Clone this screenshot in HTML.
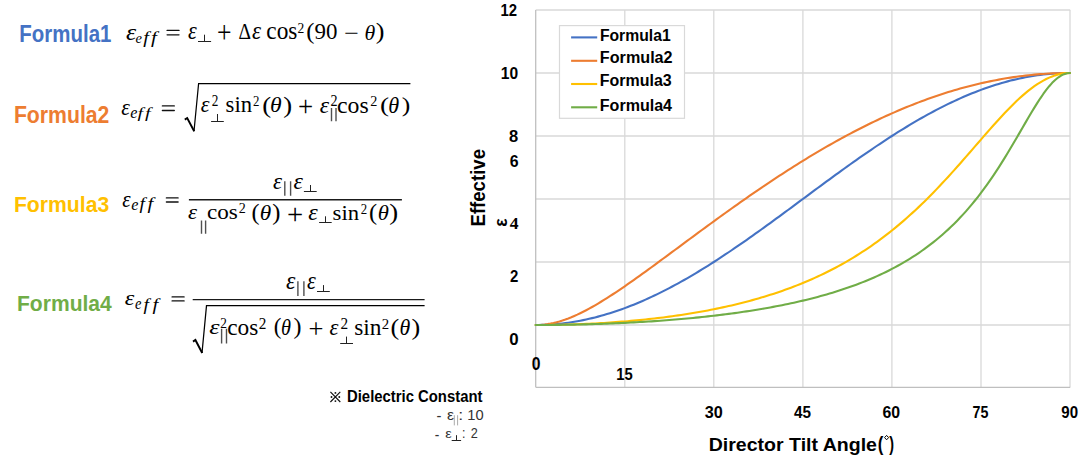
<!DOCTYPE html><html><head><meta charset="utf-8"><style>html,body{margin:0;padding:0;background:#fff;width:1089px;height:470px;overflow:hidden}svg{display:block;font-variant-ligatures:none}</style></head><body><svg width="1089" height="470"><line x1="535.7" y1="10.0" x2="1070.2" y2="10.0" stroke="#d9d9d9" stroke-width="1.3"/><line x1="535.7" y1="73.0" x2="1070.2" y2="73.0" stroke="#d9d9d9" stroke-width="1.3"/><line x1="535.7" y1="136.0" x2="1070.2" y2="136.0" stroke="#d9d9d9" stroke-width="1.3"/><line x1="535.7" y1="199.0" x2="1070.2" y2="199.0" stroke="#d9d9d9" stroke-width="1.3"/><line x1="535.7" y1="262.0" x2="1070.2" y2="262.0" stroke="#d9d9d9" stroke-width="1.3"/><line x1="535.7" y1="325.0" x2="1070.2" y2="325.0" stroke="#d9d9d9" stroke-width="1.3"/><line x1="624.8" y1="10" x2="624.8" y2="387.3" stroke="#d9d9d9" stroke-width="1.3"/><line x1="713.8" y1="10" x2="713.8" y2="387.3" stroke="#d9d9d9" stroke-width="1.3"/><line x1="802.9" y1="10" x2="802.9" y2="387.3" stroke="#d9d9d9" stroke-width="1.3"/><line x1="891.9" y1="10" x2="891.9" y2="387.3" stroke="#d9d9d9" stroke-width="1.3"/><line x1="981.0" y1="10" x2="981.0" y2="387.3" stroke="#d9d9d9" stroke-width="1.3"/><line x1="1070.0" y1="10" x2="1070.0" y2="387.3" stroke="#d9d9d9" stroke-width="1.3"/><line x1="535.7" y1="387.3" x2="1070.2" y2="387.3" stroke="#bfbfbf" stroke-width="1.3"/><line x1="535.7" y1="10" x2="535.7" y2="387.3" stroke="#bfbfbf" stroke-width="1.3"/><path d="M535.70,325.00 L538.67,324.98 L541.64,324.92 L544.61,324.83 L547.57,324.69 L550.54,324.52 L553.51,324.31 L556.48,324.06 L559.45,323.77 L562.42,323.45 L565.38,323.09 L568.35,322.69 L571.32,322.25 L574.29,321.77 L577.26,321.26 L580.23,320.71 L583.19,320.12 L586.16,319.49 L589.13,318.83 L592.10,318.14 L595.07,317.40 L598.04,316.63 L601.00,315.83 L603.97,314.98 L606.94,314.11 L609.91,313.19 L612.88,312.25 L615.85,311.27 L618.81,310.25 L621.78,309.20 L624.75,308.12 L627.72,307.00 L630.69,305.85 L633.66,304.67 L636.62,303.46 L639.59,302.21 L642.56,300.94 L645.53,299.63 L648.50,298.29 L651.47,296.92 L654.43,295.52 L657.40,294.09 L660.37,292.64 L663.34,291.15 L666.31,289.64 L669.28,288.10 L672.24,286.53 L675.21,284.93 L678.18,283.31 L681.15,281.66 L684.12,279.99 L687.09,278.29 L690.05,276.57 L693.02,274.83 L695.99,273.06 L698.96,271.27 L701.93,269.46 L704.89,267.62 L707.86,265.77 L710.83,263.89 L713.80,262.00 L716.77,260.09 L719.74,258.15 L722.71,256.20 L725.67,254.23 L728.64,252.25 L731.61,250.25 L734.58,248.23 L737.55,246.20 L740.52,244.15 L743.48,242.09 L746.45,240.02 L749.42,237.94 L752.39,235.84 L755.36,233.73 L758.33,231.61 L761.29,229.48 L764.26,227.34 L767.23,225.20 L770.20,223.04 L773.17,220.88 L776.13,218.71 L779.10,216.54 L782.07,214.36 L785.04,212.17 L788.01,209.98 L790.98,207.79 L793.95,205.59 L796.91,203.40 L799.88,201.20 L802.85,199.00 L805.82,196.80 L808.79,194.60 L811.76,192.41 L814.72,190.21 L817.69,188.02 L820.66,185.83 L823.63,183.64 L826.60,181.46 L829.57,179.29 L832.53,177.12 L835.50,174.96 L838.47,172.80 L841.44,170.66 L844.41,168.52 L847.38,166.39 L850.34,164.27 L853.31,162.16 L856.28,160.06 L859.25,157.98 L862.22,155.91 L865.19,153.85 L868.15,151.80 L871.12,149.77 L874.09,147.75 L877.06,145.75 L880.03,143.77 L883.00,141.80 L885.96,139.85 L888.93,137.91 L891.90,136.00 L894.87,134.11 L897.84,132.23 L900.81,130.38 L903.77,128.54 L906.74,126.73 L909.71,124.94 L912.68,123.17 L915.65,121.43 L918.62,119.71 L921.58,118.01 L924.55,116.34 L927.52,114.69 L930.49,113.07 L933.46,111.47 L936.42,109.90 L939.39,108.36 L942.36,106.85 L945.33,105.36 L948.30,103.91 L951.27,102.48 L954.24,101.08 L957.20,99.71 L960.17,98.37 L963.14,97.06 L966.11,95.79 L969.08,94.54 L972.05,93.33 L975.01,92.15 L977.98,91.00 L980.95,89.88 L983.92,88.80 L986.89,87.75 L989.86,86.73 L992.82,85.75 L995.79,84.81 L998.76,83.89 L1001.73,83.02 L1004.70,82.17 L1007.66,81.37 L1010.63,80.60 L1013.60,79.86 L1016.57,79.17 L1019.54,78.51 L1022.51,77.88 L1025.47,77.29 L1028.44,76.74 L1031.41,76.23 L1034.38,75.75 L1037.35,75.31 L1040.32,74.91 L1043.29,74.55 L1046.25,74.23 L1049.22,73.94 L1052.19,73.69 L1055.16,73.48 L1058.13,73.31 L1061.10,73.17 L1064.06,73.08 L1067.03,73.02 L1070.00,73.00" stroke="#4472C4" stroke-width="2.1" fill="none" stroke-linejoin="round" stroke-linecap="round"/><path d="M535.70,325.00 L538.67,324.94 L541.64,324.77 L544.61,324.48 L547.57,324.09 L550.54,323.58 L553.51,322.96 L556.48,322.24 L559.45,321.42 L562.42,320.51 L565.38,319.50 L568.35,318.40 L571.32,317.22 L574.29,315.96 L577.26,314.63 L580.23,313.22 L583.19,311.75 L586.16,310.22 L589.13,308.63 L592.10,306.98 L595.07,305.29 L598.04,303.55 L601.00,301.76 L603.97,299.94 L606.94,298.07 L609.91,296.18 L612.88,294.25 L615.85,292.29 L618.81,290.31 L621.78,288.30 L624.75,286.27 L627.72,284.21 L630.69,282.14 L633.66,280.05 L636.62,277.95 L639.59,275.83 L642.56,273.70 L645.53,271.55 L648.50,269.40 L651.47,267.24 L654.43,265.07 L657.40,262.89 L660.37,260.71 L663.34,258.52 L666.31,256.33 L669.28,254.14 L672.24,251.94 L675.21,249.74 L678.18,247.54 L681.15,245.35 L684.12,243.15 L687.09,240.95 L690.05,238.75 L693.02,236.56 L695.99,234.37 L698.96,232.18 L701.93,230.00 L704.89,227.82 L707.86,225.65 L710.83,223.48 L713.80,221.32 L716.77,219.16 L719.74,217.01 L722.71,214.87 L725.67,212.73 L728.64,210.61 L731.61,208.49 L734.58,206.38 L737.55,204.27 L740.52,202.18 L743.48,200.10 L746.45,198.02 L749.42,195.96 L752.39,193.91 L755.36,191.86 L758.33,189.83 L761.29,187.81 L764.26,185.80 L767.23,183.81 L770.20,181.82 L773.17,179.85 L776.13,177.89 L779.10,175.94 L782.07,174.01 L785.04,172.09 L788.01,170.18 L790.98,168.29 L793.95,166.41 L796.91,164.54 L799.88,162.69 L802.85,160.85 L805.82,159.03 L808.79,157.22 L811.76,155.43 L814.72,153.65 L817.69,151.89 L820.66,150.14 L823.63,148.41 L826.60,146.70 L829.57,145.00 L832.53,143.32 L835.50,141.66 L838.47,140.01 L841.44,138.38 L844.41,136.76 L847.38,135.17 L850.34,133.59 L853.31,132.03 L856.28,130.48 L859.25,128.96 L862.22,127.45 L865.19,125.96 L868.15,124.49 L871.12,123.03 L874.09,121.60 L877.06,120.18 L880.03,118.79 L883.00,117.41 L885.96,116.05 L888.93,114.71 L891.90,113.39 L894.87,112.09 L897.84,110.81 L900.81,109.55 L903.77,108.30 L906.74,107.08 L909.71,105.88 L912.68,104.70 L915.65,103.54 L918.62,102.39 L921.58,101.27 L924.55,100.17 L927.52,99.09 L930.49,98.04 L933.46,97.00 L936.42,95.98 L939.39,94.99 L942.36,94.01 L945.33,93.06 L948.30,92.12 L951.27,91.21 L954.24,90.32 L957.20,89.46 L960.17,88.61 L963.14,87.79 L966.11,86.98 L969.08,86.20 L972.05,85.44 L975.01,84.71 L977.98,83.99 L980.95,83.30 L983.92,82.63 L986.89,81.98 L989.86,81.35 L992.82,80.75 L995.79,80.16 L998.76,79.61 L1001.73,79.07 L1004.70,78.55 L1007.66,78.06 L1010.63,77.59 L1013.60,77.15 L1016.57,76.72 L1019.54,76.32 L1022.51,75.94 L1025.47,75.59 L1028.44,75.25 L1031.41,74.94 L1034.38,74.66 L1037.35,74.39 L1040.32,74.15 L1043.29,73.93 L1046.25,73.74 L1049.22,73.56 L1052.19,73.41 L1055.16,73.29 L1058.13,73.18 L1061.10,73.10 L1064.06,73.05 L1067.03,73.01 L1070.00,73.00" stroke="#ED7D31" stroke-width="2.1" fill="none" stroke-linejoin="round" stroke-linecap="round"/><path d="M535.70,325.00 L538.67,325.00 L541.64,324.98 L544.61,324.97 L547.57,324.94 L550.54,324.90 L553.51,324.86 L556.48,324.81 L559.45,324.75 L562.42,324.69 L565.38,324.61 L568.35,324.53 L571.32,324.44 L574.29,324.35 L577.26,324.24 L580.23,324.13 L583.19,324.01 L586.16,323.88 L589.13,323.74 L592.10,323.60 L595.07,323.44 L598.04,323.28 L601.00,323.11 L603.97,322.93 L606.94,322.74 L609.91,322.55 L612.88,322.34 L615.85,322.13 L618.81,321.91 L621.78,321.67 L624.75,321.43 L627.72,321.18 L630.69,320.92 L633.66,320.65 L636.62,320.38 L639.59,320.09 L642.56,319.79 L645.53,319.48 L648.50,319.16 L651.47,318.83 L654.43,318.50 L657.40,318.15 L660.37,317.79 L663.34,317.42 L666.31,317.03 L669.28,316.64 L672.24,316.23 L675.21,315.82 L678.18,315.39 L681.15,314.95 L684.12,314.50 L687.09,314.03 L690.05,313.56 L693.02,313.06 L695.99,312.56 L698.96,312.04 L701.93,311.51 L704.89,310.97 L707.86,310.41 L710.83,309.84 L713.80,309.25 L716.77,308.65 L719.74,308.03 L722.71,307.40 L725.67,306.75 L728.64,306.08 L731.61,305.40 L734.58,304.70 L737.55,303.98 L740.52,303.25 L743.48,302.50 L746.45,301.73 L749.42,300.94 L752.39,300.13 L755.36,299.30 L758.33,298.45 L761.29,297.58 L764.26,296.69 L767.23,295.78 L770.20,294.85 L773.17,293.89 L776.13,292.92 L779.10,291.91 L782.07,290.89 L785.04,289.84 L788.01,288.77 L790.98,287.67 L793.95,286.54 L796.91,285.39 L799.88,284.21 L802.85,283.00 L805.82,281.76 L808.79,280.50 L811.76,279.20 L814.72,277.88 L817.69,276.52 L820.66,275.13 L823.63,273.71 L826.60,272.26 L829.57,270.77 L832.53,269.25 L835.50,267.70 L838.47,266.10 L841.44,264.48 L844.41,262.81 L847.38,261.10 L850.34,259.36 L853.31,257.58 L856.28,255.76 L859.25,253.89 L862.22,251.99 L865.19,250.04 L868.15,248.05 L871.12,246.01 L874.09,243.94 L877.06,241.81 L880.03,239.64 L883.00,237.43 L885.96,235.17 L888.93,232.86 L891.90,230.50 L894.87,228.10 L897.84,225.64 L900.81,223.14 L903.77,220.59 L906.74,217.99 L909.71,215.34 L912.68,212.65 L915.65,209.90 L918.62,207.11 L921.58,204.26 L924.55,201.38 L927.52,198.44 L930.49,195.46 L933.46,192.43 L936.42,189.36 L939.39,186.25 L942.36,183.09 L945.33,179.90 L948.30,176.67 L951.27,173.41 L954.24,170.11 L957.20,166.79 L960.17,163.44 L963.14,160.06 L966.11,156.67 L969.08,153.26 L972.05,149.84 L975.01,146.42 L977.98,142.99 L980.95,139.57 L983.92,136.15 L986.89,132.75 L989.86,129.38 L992.82,126.03 L995.79,122.71 L998.76,119.44 L1001.73,116.21 L1004.70,113.04 L1007.66,109.94 L1010.63,106.90 L1013.60,103.95 L1016.57,101.09 L1019.54,98.32 L1022.51,95.65 L1025.47,93.10 L1028.44,90.66 L1031.41,88.36 L1034.38,86.19 L1037.35,84.16 L1040.32,82.29 L1043.29,80.57 L1046.25,79.01 L1049.22,77.63 L1052.19,76.41 L1055.16,75.38 L1058.13,74.53 L1061.10,73.86 L1064.06,73.38 L1067.03,73.10 L1070.00,73.00" stroke="#FFC000" stroke-width="2.1" fill="none" stroke-linejoin="round" stroke-linecap="round"/><path d="M535.70,325.00 L538.67,325.00 L541.64,324.99 L544.61,324.98 L547.57,324.96 L550.54,324.94 L553.51,324.92 L556.48,324.89 L559.45,324.85 L562.42,324.81 L565.38,324.77 L568.35,324.72 L571.32,324.67 L574.29,324.61 L577.26,324.55 L580.23,324.48 L583.19,324.41 L586.16,324.33 L589.13,324.25 L592.10,324.16 L595.07,324.07 L598.04,323.97 L601.00,323.87 L603.97,323.76 L606.94,323.65 L609.91,323.53 L612.88,323.41 L615.85,323.28 L618.81,323.15 L621.78,323.01 L624.75,322.87 L627.72,322.72 L630.69,322.57 L633.66,322.41 L636.62,322.24 L639.59,322.07 L642.56,321.90 L645.53,321.72 L648.50,321.53 L651.47,321.33 L654.43,321.13 L657.40,320.93 L660.37,320.72 L663.34,320.50 L666.31,320.27 L669.28,320.04 L672.24,319.80 L675.21,319.56 L678.18,319.31 L681.15,319.05 L684.12,318.79 L687.09,318.52 L690.05,318.24 L693.02,317.95 L695.99,317.66 L698.96,317.36 L701.93,317.05 L704.89,316.73 L707.86,316.41 L710.83,316.07 L713.80,315.73 L716.77,315.38 L719.74,315.03 L722.71,314.66 L725.67,314.29 L728.64,313.90 L731.61,313.51 L734.58,313.10 L737.55,312.69 L740.52,312.27 L743.48,311.83 L746.45,311.39 L749.42,310.94 L752.39,310.47 L755.36,310.00 L758.33,309.51 L761.29,309.01 L764.26,308.50 L767.23,307.98 L770.20,307.44 L773.17,306.89 L776.13,306.33 L779.10,305.76 L782.07,305.17 L785.04,304.57 L788.01,303.95 L790.98,303.32 L793.95,302.67 L796.91,302.01 L799.88,301.33 L802.85,300.63 L805.82,299.92 L808.79,299.19 L811.76,298.44 L814.72,297.68 L817.69,296.89 L820.66,296.09 L823.63,295.26 L826.60,294.42 L829.57,293.55 L832.53,292.66 L835.50,291.75 L838.47,290.81 L841.44,289.85 L844.41,288.87 L847.38,287.86 L850.34,286.82 L853.31,285.75 L856.28,284.66 L859.25,283.54 L862.22,282.39 L865.19,281.20 L868.15,279.99 L871.12,278.74 L874.09,277.45 L877.06,276.13 L880.03,274.77 L883.00,273.38 L885.96,271.94 L888.93,270.46 L891.90,268.94 L894.87,267.38 L897.84,265.77 L900.81,264.11 L903.77,262.40 L906.74,260.64 L909.71,258.83 L912.68,256.96 L915.65,255.03 L918.62,253.05 L921.58,251.00 L924.55,248.89 L927.52,246.71 L930.49,244.46 L933.46,242.14 L936.42,239.75 L939.39,237.28 L942.36,234.73 L945.33,232.09 L948.30,229.38 L951.27,226.57 L954.24,223.67 L957.20,220.67 L960.17,217.58 L963.14,214.38 L966.11,211.08 L969.08,207.68 L972.05,204.16 L975.01,200.53 L977.98,196.79 L980.95,192.93 L983.92,188.96 L986.89,184.86 L989.86,180.65 L992.82,176.32 L995.79,171.88 L998.76,167.32 L1001.73,162.65 L1004.70,157.88 L1007.66,153.02 L1010.63,148.07 L1013.60,143.05 L1016.57,137.98 L1019.54,132.87 L1022.51,127.74 L1025.47,122.62 L1028.44,117.54 L1031.41,112.53 L1034.38,107.62 L1037.35,102.87 L1040.32,98.30 L1043.29,93.97 L1046.25,89.92 L1049.22,86.21 L1052.19,82.87 L1055.16,79.95 L1058.13,77.51 L1061.10,75.56 L1064.06,74.15 L1067.03,73.29 L1070.00,73.00" stroke="#70AD47" stroke-width="2.1" fill="none" stroke-linejoin="round" stroke-linecap="round"/><rect x="559.5" y="25.6" width="125" height="92.7" fill="#fff" stroke="#d9d9d9" stroke-width="1.2"/><line x1="571.1" y1="37.4" x2="597.2" y2="37.4" stroke="#4472C4" stroke-width="2.1"/><line x1="571.1" y1="60.8" x2="597.2" y2="60.8" stroke="#ED7D31" stroke-width="2.1"/><line x1="571.1" y1="84.0" x2="597.2" y2="84.0" stroke="#FFC000" stroke-width="2.1"/><line x1="571.1" y1="107.3" x2="597.2" y2="107.3" stroke="#70AD47" stroke-width="2.1"/><text font-size="23.62" font-family="Liberation Sans, sans-serif" font-weight="bold" fill="#4472C4" transform="matrix(0.8662 0 0 1 19.36 42.25)">Formula1</text><text font-size="23.18" font-family="Liberation Sans, sans-serif" font-weight="bold" fill="#ED7D31" transform="matrix(0.9160 0 0 1 13.89 122.75)">Formula2</text><text font-size="21.93" font-family="Liberation Sans, sans-serif" font-weight="bold" fill="#FFC000" transform="matrix(0.9662 0 0 1 13.92 211.68)">Formula3</text><text font-size="21.93" font-family="Liberation Sans, sans-serif" font-weight="bold" fill="#70AD47" transform="matrix(0.9607 0 0 1 16.97 310.68)">Formula4</text><text font-size="23.16" font-family="Liberation Serif, serif" font-style="italic" transform="matrix(1.1173 0 0 1 125.88 39.54)">ε</text><text font-size="15.15" font-family="Liberation Serif, serif" font-style="italic" transform="matrix(0.9618 0 0 1 135.46 42.87)">e</text><text font-size="15.65" font-family="Liberation Serif, serif" font-style="italic" transform="matrix(1.2935 0 0 1 143.15 42.96)">f</text><text font-size="16.14" font-family="Liberation Serif, serif" font-style="italic" transform="matrix(1.2978 0 0 1 150.89 43.44)">f</text><text font-size="24.24" font-family="Liberation Serif, serif" font-style="italic" transform="matrix(0.9139 0 0 1 188.05 39.48)">ε</text><text font-size="31.50" font-family="Liberation Serif, serif" transform="matrix(0.8170 0 0 1 216.97 42.80)">+</text><text font-size="22.26" font-family="Liberation Serif, serif" transform="matrix(0.8720 0 0 1 238.39 39.25)">Δ</text><text font-size="24.24" font-family="Liberation Serif, serif" font-style="italic" transform="matrix(0.9476 0 0 1 252.08 39.48)">ε</text><text font-size="24.24" font-family="Liberation Serif, serif" transform="matrix(0.9623 0 0 1 266.37 39.48)">cos</text><text font-size="14.00" font-family="Liberation Serif, serif" transform="matrix(0.9668 0 0 1 297.47 32.74)">2</text><text font-size="22.38" font-family="Liberation Serif, serif" transform="matrix(1.0976 0 0 1 306.21 39.09)">(</text><text font-size="23.81" font-family="Liberation Serif, serif" transform="matrix(0.9634 0 0 1 314.56 39.20)">90</text><text font-size="17.93" font-family="Liberation Serif, serif" transform="matrix(1.4589 0 0 1 344.02 38.82)">−</text><text font-size="21.48" font-family="Liberation Serif, serif" font-style="italic" transform="matrix(1.0182 0 0 1 364.52 39.59)">θ</text><text font-size="22.20" font-family="Liberation Serif, serif" transform="matrix(1.1812 0 0 1 375.81 39.23)">)</text><text font-size="23.16" font-family="Liberation Serif, serif" font-style="italic" transform="matrix(0.9438 0 0 1 121.13 114.93)">ε</text><text font-size="15.92" font-family="Liberation Serif, serif" font-style="italic" transform="matrix(1.0110 0 0 1 130.26 118.16)">e</text><text font-size="14.82" font-family="Liberation Serif, serif" font-style="italic" transform="matrix(1.3464 0 0 1 137.41 118.28)">f</text><text font-size="14.82" font-family="Liberation Serif, serif" font-style="italic" transform="matrix(1.3609 0 0 1 145.07 118.28)">f</text><text font-size="22.50" font-family="Liberation Serif, serif" font-style="italic" transform="matrix(0.9844 0 0 1 200.64 111.99)">ε</text><text font-size="17.41" font-family="Liberation Serif, serif" transform="matrix(0.7635 0 0 1 211.73 105.55)">2</text><text font-size="22.54" font-family="Liberation Serif, serif" transform="matrix(1.0057 0 0 1 225.60 111.89)">sin</text><text font-size="14.45" font-family="Liberation Serif, serif" transform="matrix(0.8872 0 0 1 253.04 106.29)">2</text><text font-size="22.89" font-family="Liberation Serif, serif" transform="matrix(1.1705 0 0 1 262.27 112.81)">(</text><text font-size="21.92" font-family="Liberation Serif, serif" font-style="italic" transform="matrix(1.0813 0 0 1 269.92 111.94)">θ</text><text font-size="22.89" font-family="Liberation Serif, serif" transform="matrix(1.1705 0 0 1 283.13 112.81)">)</text><text font-size="29.80" font-family="Liberation Serif, serif" transform="matrix(0.9029 0 0 1 298.12 115.87)">+</text><text font-size="23.57" font-family="Liberation Serif, serif" font-style="italic" transform="matrix(1.0083 0 0 1 319.83 112.53)">ε</text><text font-size="16.92" font-family="Liberation Serif, serif" transform="matrix(0.8331 0 0 1 330.46 105.60)">2</text><text font-size="23.57" font-family="Liberation Serif, serif" transform="matrix(1.0079 0 0 1 336.99 112.53)">cos</text><text font-size="14.41" font-family="Liberation Serif, serif" transform="matrix(0.9855 0 0 1 370.28 106.45)">2</text><text font-size="21.99" font-family="Liberation Serif, serif" transform="matrix(1.2419 0 0 1 379.94 112.17)">(</text><text font-size="22.36" font-family="Liberation Serif, serif" font-style="italic" transform="matrix(0.9920 0 0 1 388.21 112.73)">θ</text><text font-size="21.99" font-family="Liberation Serif, serif" transform="matrix(1.1673 0 0 1 401.69 112.17)">)</text><text font-size="22.92" font-family="Liberation Serif, serif" font-style="italic" transform="matrix(0.9225 0 0 1 122.17 206.57)">ε</text><text font-size="15.92" font-family="Liberation Serif, serif" font-style="italic" transform="matrix(1.0110 0 0 1 131.26 209.55)">e</text><text font-size="16.31" font-family="Liberation Serif, serif" font-style="italic" transform="matrix(1.1905 0 0 1 139.42 209.28)">f</text><text font-size="16.31" font-family="Liberation Serif, serif" font-style="italic" transform="matrix(1.2622 0 0 1 147.59 209.28)">f</text><text font-size="23.57" font-family="Liberation Serif, serif" font-style="italic" transform="matrix(0.9744 0 0 1 272.90 188.92)">ε</text><text font-size="23.57" font-family="Liberation Serif, serif" font-style="italic" transform="matrix(1.0099 0 0 1 293.53 188.92)">ε</text><text font-size="21.37" font-family="Liberation Serif, serif" font-style="italic" transform="matrix(1.0745 0 0 1 188.08 218.59)">ε</text><text font-size="21.37" font-family="Liberation Serif, serif" transform="matrix(1.0799 0 0 1 206.94 218.59)">cos</text><text font-size="15.31" font-family="Liberation Serif, serif" transform="matrix(0.9207 0 0 1 238.79 212.66)">2</text><text font-size="22.89" font-family="Liberation Serif, serif" transform="matrix(1.0545 0 0 1 251.38 220.40)">(</text><text font-size="21.57" font-family="Liberation Serif, serif" font-style="italic" transform="matrix(1.0831 0 0 1 259.63 219.94)">θ</text><text font-size="22.89" font-family="Liberation Serif, serif" transform="matrix(1.0753 0 0 1 272.17 220.40)">)</text><text font-size="29.15" font-family="Liberation Serif, serif" transform="matrix(0.9843 0 0 1 286.94 223.63)">+</text><text font-size="22.16" font-family="Liberation Serif, serif" font-style="italic" transform="matrix(1.0857 0 0 1 308.17 220.10)">ε</text><text font-size="21.59" font-family="Liberation Serif, serif" transform="matrix(1.0500 0 0 1 332.60 219.80)">sin</text><text font-size="15.31" font-family="Liberation Serif, serif" transform="matrix(0.8374 0 0 1 360.66 213.87)">2</text><text font-size="22.89" font-family="Liberation Serif, serif" transform="matrix(1.0672 0 0 1 369.12 220.40)">(</text><text font-size="21.57" font-family="Liberation Serif, serif" font-style="italic" transform="matrix(1.0520 0 0 1 377.79 219.94)">θ</text><text font-size="22.89" font-family="Liberation Serif, serif" transform="matrix(1.1705 0 0 1 389.13 220.40)">)</text><text font-size="21.49" font-family="Liberation Serif, serif" font-style="italic" transform="matrix(1.1267 0 0 1 124.85 304.74)">ε</text><text font-size="15.92" font-family="Liberation Serif, serif" font-style="italic" transform="matrix(0.9084 0 0 1 134.97 309.36)">e</text><text font-size="16.31" font-family="Liberation Serif, serif" font-style="italic" transform="matrix(1.1937 0 0 1 143.50 309.72)">f</text><text font-size="16.31" font-family="Liberation Serif, serif" font-style="italic" transform="matrix(1.2622 0 0 1 152.59 309.72)">f</text><text font-size="24.76" font-family="Liberation Serif, serif" font-style="italic" transform="matrix(0.9596 0 0 1 286.02 289.27)">ε</text><text font-size="24.76" font-family="Liberation Serif, serif" font-style="italic" transform="matrix(0.9021 0 0 1 306.94 289.27)">ε</text><text font-size="21.49" font-family="Liberation Serif, serif" font-style="italic" transform="matrix(1.2145 0 0 1 209.15 334.14)">ε</text><text font-size="14.85" font-family="Liberation Serif, serif" transform="matrix(0.8946 0 0 1 220.31 327.93)">2</text><text font-size="22.92" font-family="Liberation Serif, serif" transform="matrix(1.0187 0 0 1 227.16 334.97)">cos</text><text font-size="16.92" font-family="Liberation Serif, serif" transform="matrix(0.9029 0 0 1 258.75 329.20)">2</text><text font-size="22.55" font-family="Liberation Serif, serif" transform="matrix(1.0236 0 0 1 273.68 334.29)">(</text><text font-size="22.68" font-family="Liberation Serif, serif" font-style="italic" transform="matrix(0.8961 0 0 1 281.11 334.93)">θ</text><text font-size="22.55" font-family="Liberation Serif, serif" transform="matrix(1.0628 0 0 1 293.48 334.33)">)</text><text font-size="28.10" font-family="Liberation Serif, serif" transform="matrix(0.9434 0 0 1 308.54 337.50)">+</text><text font-size="22.92" font-family="Liberation Serif, serif" font-style="italic" transform="matrix(0.9902 0 0 1 329.46 334.97)">ε</text><text font-size="16.14" font-family="Liberation Serif, serif" transform="matrix(0.9468 0 0 1 340.53 328.64)">2</text><text font-size="22.41" font-family="Liberation Serif, serif" transform="matrix(1.0425 0 0 1 354.19 334.98)">sin</text><text font-size="14.85" font-family="Liberation Serif, serif" transform="matrix(0.9962 0 0 1 381.82 329.28)">2</text><text font-size="22.89" font-family="Liberation Serif, serif" transform="matrix(1.1457 0 0 1 390.55 334.60)">(</text><text font-size="22.68" font-family="Liberation Serif, serif" font-style="italic" transform="matrix(0.9647 0 0 1 399.59 334.93)">θ</text><text font-size="22.89" font-family="Liberation Serif, serif" transform="matrix(1.1457 0 0 1 411.39 334.60)">)</text><text font-size="15.76" font-family="Liberation Sans, sans-serif" font-weight="bold" transform="matrix(0.9451 0 0 1 500.49 16.07)">12</text><text font-size="16.87" font-family="Liberation Sans, sans-serif" font-weight="bold" transform="matrix(0.9243 0 0 1 500.78 78.81)">10</text><text font-size="16.42" font-family="Liberation Sans, sans-serif" font-weight="bold" transform="matrix(1.0069 0 0 1 509.08 141.63)">8</text><text font-size="16.87" font-family="Liberation Sans, sans-serif" font-weight="bold" transform="matrix(0.9405 0 0 1 509.78 166.81)">6</text><text font-size="15.85" font-family="Liberation Sans, sans-serif" font-weight="bold" transform="matrix(0.9446 0 0 1 510.10 282.15)">2</text><text font-size="15.63" font-family="Liberation Sans, sans-serif" font-weight="bold" transform="matrix(1.0757 0 0 1 509.21 345.37)">0</text><text font-size="17.70" font-family="Liberation Sans, sans-serif" font-weight="bold" transform="matrix(0.8869 0 0 1 531.76 369.62)">0</text><text font-size="16.64" font-family="Liberation Sans, sans-serif" font-weight="bold" transform="matrix(0.8865 0 0 1 616.31 380.15)">15</text><text font-size="16.90" font-family="Liberation Sans, sans-serif" font-weight="bold" transform="matrix(0.9579 0 0 1 704.68 417.83)">30</text><text font-size="16.27" font-family="Liberation Sans, sans-serif" font-weight="bold" transform="matrix(0.9376 0 0 1 794.02 417.93)">45</text><text font-size="16.04" font-family="Liberation Sans, sans-serif" font-weight="bold" transform="matrix(0.9887 0 0 1 882.39 417.93)">60</text><text font-size="16.27" font-family="Liberation Sans, sans-serif" font-weight="bold" transform="matrix(0.8773 0 0 1 972.60 417.93)">75</text><text font-size="16.04" font-family="Liberation Sans, sans-serif" font-weight="bold" transform="matrix(0.9380 0 0 1 1061.36 417.93)">90</text><text font-size="17.31" font-family="Liberation Serif, serif" font-weight="bold" transform="matrix(1.0157 0 0 1 509.80 228.69)">4</text><text font-size="16.64" font-family="Liberation Sans, sans-serif" font-weight="bold" transform="matrix(0.9457 0 0 1 599.88 40.59)">Formula1</text><text font-size="16.64" font-family="Liberation Sans, sans-serif" font-weight="bold" transform="matrix(0.9720 0 0 1 599.87 63.38)">Formula2</text><text font-size="16.22" font-family="Liberation Sans, sans-serif" font-weight="bold" transform="matrix(0.9855 0 0 1 599.81 86.44)">Formula3</text><text font-size="16.22" font-family="Liberation Sans, sans-serif" font-weight="bold" transform="matrix(0.9905 0 0 1 599.80 110.64)">Formula4</text><text font-size="19.24" font-family="Liberation Sans, sans-serif" font-weight="bold" transform="matrix(1.0161 0 0 1 708.74 450.89)">Director Tilt Angle</text><text font-size="19.47" font-family="Liberation Sans, sans-serif" font-weight="bold" transform="matrix(0.8611 0 0 1 877.78 451.11)">(</text><text font-size="19.47" font-family="Liberation Sans, sans-serif" font-weight="bold" transform="matrix(0.7366 0 0 1 889.31 451.11)">)</text><text font-size="15.94" font-family="Liberation Sans, sans-serif" font-weight="bold" transform="matrix(0.9329 0 0 1 347.00 402.23)">Dielectric Constant</text><text font-size="17.23" font-family="Liberation Sans, sans-serif" fill="#333" transform="matrix(0.8549 0 0 1 436.44 420.96)">-</text><text font-size="13.89" font-family="Liberation Sans, sans-serif" fill="#333" transform="matrix(1.1362 0 0 1 447.03 419.99)">ε</text><text font-size="13.80" font-family="Liberation Sans, sans-serif" fill="#333" transform="matrix(1.2876 0 0 1 458.37 420.15)">:</text><text font-size="14.98" font-family="Liberation Sans, sans-serif" fill="#333" transform="matrix(0.9832 0 0 1 467.25 419.97)">10</text><text font-size="17.23" font-family="Liberation Sans, sans-serif" fill="#333" transform="matrix(0.7928 0 0 1 434.75 440.06)">-</text><text font-size="11.98" font-family="Liberation Sans, sans-serif" fill="#333" transform="matrix(1.2109 0 0 1 445.24 438.26)">ε</text><text font-size="13.80" font-family="Liberation Sans, sans-serif" fill="#333" transform="matrix(0.8830 0 0 1 461.90 438.35)">:</text><text font-size="15.19" font-family="Liberation Sans, sans-serif" fill="#333" transform="matrix(0.8364 0 0 1 470.64 438.30)">2</text><path d="M204.50 34.70 V41.50 M198.00 41.50 H211.10" stroke="#222" stroke-width="1.00" fill="none"/><path d="M217.50 114.00 V121.50 M211.10 121.50 H223.80" stroke="#222" stroke-width="1.00" fill="none"/><path d="M331.50 108.00 V121.20 M336.00 108.00 V121.20" stroke="#505050" stroke-width="1.40" fill="none"/><path d="M284.80 181.20 V195.80 M290.60 181.20 V195.80" stroke="#505050" stroke-width="1.40" fill="none"/><path d="M310.50 185.00 V191.50 M303.90 191.50 H316.70" stroke="#222" stroke-width="1.00" fill="none"/><path d="M201.50 220.40 V233.80 M205.60 220.40 V233.80" stroke="#505050" stroke-width="1.40" fill="none"/><path d="M325.50 216.30 V222.50 M319.10 222.50 H331.70" stroke="#222" stroke-width="1.00" fill="none"/><path d="M297.90 281.30 V295.90 M303.90 281.30 V295.90" stroke="#505050" stroke-width="1.40" fill="none"/><path d="M323.50 285.10 V291.50 M317.00 291.50 H329.80" stroke="#222" stroke-width="1.00" fill="none"/><path d="M221.60 328.70 V343.60 M226.50 328.70 V343.60" stroke="#505050" stroke-width="1.40" fill="none"/><path d="M346.50 336.60 V343.50 M340.20 343.50 H353.00" stroke="#222" stroke-width="1.00" fill="none"/><path d="M167.10 30.40 H179.00 M167.10 34.80 H179.00" stroke="#111" stroke-width="1.35" fill="none" stroke-linecap="round"/><path d="M162.40 105.90 H174.30 M162.40 110.50 H174.30" stroke="#111" stroke-width="1.35" fill="none" stroke-linecap="round"/><path d="M166.40 197.90 H178.10 M166.40 202.00 H178.10" stroke="#111" stroke-width="1.35" fill="none" stroke-linecap="round"/><path d="M172.10 296.90 H184.10 M172.10 300.90 H184.10" stroke="#111" stroke-width="1.35" fill="none" stroke-linecap="round"/><line x1="188.9" y1="199.8" x2="401.9" y2="199.8" stroke="#1a1a1a" stroke-width="1.45"/><line x1="192.7" y1="299.6" x2="424.6" y2="299.6" stroke="#1a1a1a" stroke-width="1.45"/><path d="M184.8 119.6 L187.2 118 L194.2 131.3" stroke="#000" stroke-width="1.9" fill="none"/><path d="M194 131.3 L198.6 83.5 L410.4 83.5" stroke="#000" stroke-width="1.25" fill="none" stroke-linejoin="miter"/><path d="M193 341.6 L195.4 340 L202.2 353" stroke="#000" stroke-width="1.9" fill="none"/><path d="M202 353 L206.5 305.6 L424.6 305.6" stroke="#000" stroke-width="1.25" fill="none" stroke-linejoin="miter"/><g stroke="#111" stroke-width="1.15" fill="none"><path d="M330.4 391.9 L340.3 402 M340.3 391.9 L330.4 402"/></g><g fill="#111"><circle cx="335.4" cy="392.9" r="0.95"/><circle cx="335.4" cy="401.1" r="0.95"/><circle cx="331.5" cy="397" r="0.95"/><circle cx="339.3" cy="397" r="0.95"/></g><path d="M454.30 415.20 V425.40 M457.60 415.20 V425.40" stroke="#aaa" stroke-width="1.00" fill="none"/><path d="M456.50 435.20 V440.50 M451.70 440.50 H461.10" stroke="#222" stroke-width="1.00" fill="none"/><path d="M886.6 435.4 L888.6 437.6 L886.6 439.8 L884.6 437.6 Z" stroke="#000" stroke-width="1" fill="none"/><g transform="translate(485.2,226.5) rotate(-90)"><text x="0" y="0" font-size="20.5" font-family="Liberation Sans, sans-serif" font-weight="bold" textLength="77.5" lengthAdjust="spacingAndGlyphs">Effective</text></g><g transform="translate(507.1,222.5) rotate(-90)"><text x="0" y="0" font-size="17.5" font-family="Liberation Sans, sans-serif" font-weight="bold" text-anchor="middle">ε</text></g></svg></body></html>
